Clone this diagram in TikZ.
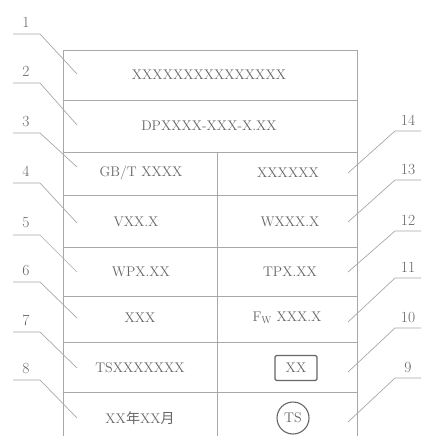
\documentclass[tikz,border=0pt]{standalone}
\usepackage{fontspec}
\newfontfamily\cjk{Noto Sans CJK SC}
\definecolor{linec}{HTML}{A8A8A8}
\definecolor{textc}{HTML}{666666}
\begin{document}
\begin{tikzpicture}[x=1pt,y=-1pt,
  frame/.style={draw=linec,line width=0.9pt},
  rowline/.style={draw=linec,line width=0.7pt},
  leader/.style={draw=linec,line width=0.7pt},
  cell/.style={text=textc,font=\fontsize{14}{16}\selectfont,inner sep=0pt,anchor=center},
  num/.style={text=textc,font=\fontsize{15.5}{17}\selectfont,inner sep=0pt,anchor=center}]
\useasboundingbox (0,0) rectangle (421,436);
% table frame
\coordinate (tl) at (63,50);
\coordinate (tr) at (357,50);
\coordinate (bl) at (63,436);
\coordinate (br) at (357,436);
\coordinate (mt) at (217,152);
\coordinate (mb) at (217,436);
\draw[frame] (bl) -- (tl) -- (tr) -- (br);
\draw[rowline] (mt) -- (mb);
\foreach \y/\w in {100/0.9,152/0.9,195/0.7,247/0.7,296/0.9,342/0.7,392/0.7}{
  \draw[rowline,line width=\w pt] (63,\y) -- (357,\y);
}
% cell texts
\node[cell] (r1) at (209,75) {XXXXXXXXXXXXXXX};
\node[cell] (r2) at (209,126) {DPXXXX-XXX-X.XX};
\node[cell] (c3l) at (141,173) {GB/T XXXX};
\node[cell] (c3r) at (288,173) {XXXXXX};
\node[cell] (c4l) at (136,222) {VXX.X};
\node[cell] (c4r) at (290,222) {WXXX.X};
\node[cell] (c5l) at (141,272) {WPX.XX};
\node[cell] (c5r) at (290,272) {TPX.XX};
\node[cell] (c6l) at (140,318) {XXX};
\node[cell] (c6r) at (287,318) {F$_{\mathrm{W}}$ XXX.X};
\node[cell] (c7l) at (140,368) {TSXXXXXXX};
\node[cell,draw=textc,line width=1.1pt,rounded corners=1.5pt,minimum width=42pt,minimum height=25pt] (c7r) at (296,368) {XX};
\node[cell] (c8l) at (140,418) {XX{\cjk 年}XX{\cjk 月}};
\node[cell,draw=textc,line width=1.1pt,circle,minimum size=32pt] (c8r) at (293,418) {TS};
% left leaders
\foreach \i/\u/\e in {1/34/74,2/83/125,3/133/167,4/183/223,5/235/272,6/282/318,7/332/368,8/380/418}{
  \node[num] (L\i) at (26,\u-12) {\i};
  \coordinate (La\i) at (13,\u);
  \coordinate (Lb\i) at (40,\u);
  \coordinate (Lc\i) at (77,\e);
  \draw[leader] (La\i) -- (Lb\i) -- (Lc\i);
}
% right leaders
\foreach \i/\u/\e in {14/131/173,13/180/222,12/231/272,11/278/322,10/328/372,9/378/422}{
  \node[num] (R\i) at (408,\u-11) {\i};
  \coordinate (Ra\i) at (421,\u);
  \coordinate (Rb\i) at (395,\u);
  \coordinate (Rc\i) at (348,\e);
  \draw[leader] (Ra\i) -- (Rb\i) -- (Rc\i);
}
\end{tikzpicture}
\end{document}
